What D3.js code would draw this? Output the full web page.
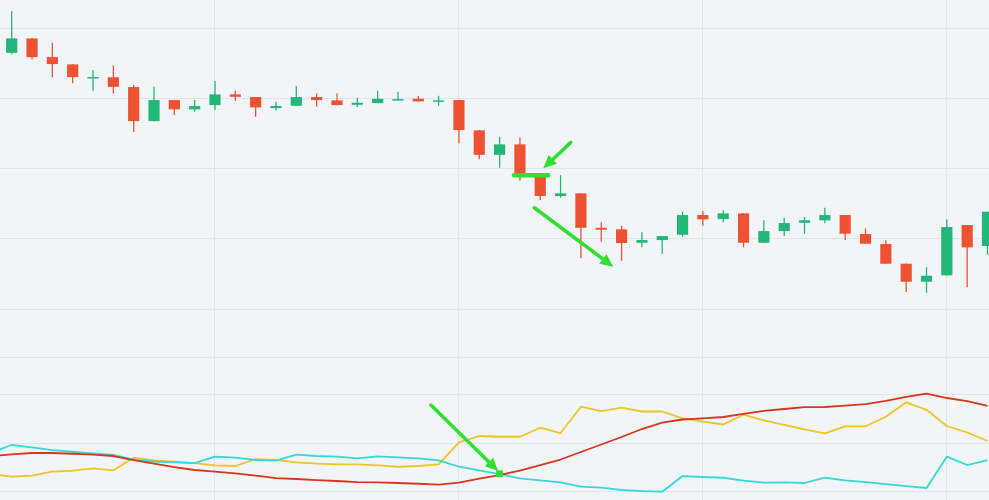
<!DOCTYPE html>
<html>
<head>
<meta charset="utf-8">
<script src="https://cdn.jsdelivr.net/npm/d3@7"></script>
<style>
  html, body { margin: 0; padding: 0; background: #f2f5f8; overflow: hidden; }
  #chart svg { display: block; }
</style>
</head>
<body>
<div id="chart"></div>
<script>
/*******************************/
/*           The data          */
/*******************************/
// Candles (price in chart units), one value per period 0..48
const opens  = [136.48, 138.53, 135.87, 134.83, 132.92, 133.00, 131.60, 126.76, 129.75, 128.43,
                129.04, 130.56, 130.18, 128.61, 128.94, 130.18, 129.71, 129.08, 129.32, 129.75,
                129.94, 129.61, 129.75, 125.44, 121.96, 123.44, 118.83, 116.09, 116.47, 111.57,
                111.35, 109.44, 109.82, 110.58, 113.38, 112.81, 113.62, 109.44, 111.10, 112.28,
                112.63, 113.38, 110.68, 109.25, 106.45, 103.89, 104.80, 111.96, 108.97];
const highs  = [142.42, 138.60, 137.91, 134.85, 134.02, 134.69, 131.89, 131.70, 129.78, 129.75,
                132.46, 131.07, 130.20, 129.51, 131.74, 130.70, 130.70, 130.08, 131.07, 130.93,
                130.32, 130.36, 129.78, 125.46, 124.53, 124.44, 118.86, 119.07, 116.50, 112.34,
                111.86, 110.92, 110.41, 113.85, 113.95, 114.05, 113.65, 112.63, 113.00, 113.10,
                114.42, 113.40, 111.49, 109.78, 106.47, 105.94, 112.77, 111.98, 113.87];
const lows   = [136.26, 135.54, 132.98, 132.13, 131.07, 130.70, 125.20, 126.69, 127.62, 128.09,
                128.33, 129.65, 127.37, 128.23, 128.90, 128.80, 129.00, 128.75, 129.30, 129.74,
                129.56, 128.94, 123.59, 121.31, 120.11, 118.26, 115.52, 115.84, 107.22, 109.58,
                106.88, 108.78, 107.87, 110.29, 111.86, 112.34, 108.78, 109.42, 110.39, 110.68,
                112.20, 109.82, 109.28, 106.43, 102.42, 102.32, 104.78, 103.09, 107.73];
const closes = [138.53, 135.87, 134.88, 133.02, 133.04, 131.64, 126.76, 129.75, 128.43, 128.90,
                130.56, 130.22, 128.71, 128.90, 130.18, 129.75, 129.04, 129.37, 129.94, 129.89,
                129.57, 129.71, 125.48, 121.96, 123.44, 119.22, 116.09, 116.47, 111.57, 111.29,
                109.40, 109.82, 110.39, 113.38, 112.77, 113.62, 109.44, 111.10, 112.24, 112.63,
                113.38, 110.72, 109.30, 106.45, 103.89, 104.74, 111.67, 108.78, 113.85];

// Indicator lines, one value per period -1..48 (the first one sits left of the view)
const indicatorStart = -1;
const adx     = [17.33, 17.68, 17.95, 17.95, 17.80, 17.60, 17.33, 16.51, 15.75, 15.07,
                 14.46, 14.11, 13.78, 13.29, 12.81, 12.61, 12.40, 12.20, 11.99, 11.93,
                 11.79, 11.64, 11.44, 11.85, 12.67, 13.43, 14.35, 15.48, 16.61, 18.15,
                 19.69, 21.23, 22.87, 24.17, 24.83, 25.07, 25.34, 26.00, 26.61, 26.98,
                 27.35, 27.39, 27.66, 27.97, 28.67, 29.49, 30.12, 29.24, 28.62, 27.60];
const plusDI  = [18.05, 19.59, 19.12, 18.56, 18.21, 17.89, 17.54, 16.57, 16.16, 16.04,
                 15.89, 17.19, 16.98, 16.51, 16.37, 17.60, 17.33, 17.19, 16.86, 17.27,
                 17.06, 16.86, 16.45, 15.13, 14.39, 13.63, 12.75, 12.34, 11.93, 11.03,
                 10.82, 10.35, 10.14, 10.00, 13.22, 13.02, 12.87, 12.26, 11.85, 11.93,
                 11.79, 12.87, 12.34, 11.99, 11.58, 11.17, 10.76, 17.19, 15.48, 16.51];
const minusDI = [13.63, 13.08, 13.29, 14.11, 14.31, 14.80, 14.39, 16.98, 16.45, 16.16,
                 15.89, 15.42, 15.28, 16.71, 16.51, 16.04, 15.75, 15.63, 15.63, 15.42,
                 15.13, 15.28, 15.63, 20.14, 21.44, 21.29, 21.29, 23.14, 22.05, 27.45,
                 26.57, 27.25, 26.47, 26.47, 25.07, 24.37, 23.80, 25.81, 24.66, 23.70,
                 22.81, 21.99, 23.43, 23.43, 25.40, 28.36, 26.82, 23.49, 22.16, 20.41];

// Grid levels
const priceTicks = [100, 110, 120, 130, 140];
const indicatorTicks = [10, 20, 30];
const timeTicks = [10, 22, 34, 46];

// Annotations, in data space: [period, value]
const arrowsPrice = [
  {from: [27.50, 123.73], to: [26.15, 120.03]},
  {from: [25.71, 114.42], to: [29.59, 106.02]}
];
const levelLine = {from: 24.71, to: 26.39, value: 119.03};
const arrowsIndicator = [
  {from: [20.62, 27.80], to: [23.93, 14.25]}
];
const crossPoint = [24, 13.70];


/*******************************/
/*    Declare the constants    */
/*******************************/
const width = 989;
const height = 500;
const paneSplit = 357;

const colors = {
  background: "#f2f5f8",
  grid: "#e1e6ec",
  up: "#22b679",
  down: "#ef5133",
  adx: "#d9361c",
  plusDI: "#36d8d8",
  minusDI: "#eec425",
  note: "#2fe02f"
};

const candles = opens.map((o, i) => ({
  i: i, open: o, high: highs[i], low: lows[i], close: closes[i]
}));


/****************************/
/*    Declare the scales    */
/****************************/
const xScale = d3.scaleLinear()
  .domain([0, candles.length - 1])
  .range([11.7, 987.5]);
const step = xScale(1) - xScale(0);
const bodyWidth = step * 0.55;

const yPrice = d3.scaleLinear()
  .domain([93.17, 144])
  .range([paneSplit, 0]);

const yInd = d3.scaleLinear()
  .domain([8.3, 37.66])
  .range([height, paneSplit]);


/*******************************/
/*    Append the containers    */
/*******************************/
const svg = d3.select("#chart")
  .append("svg")
    .attr("width", width)
    .attr("height", height)
    .attr("viewBox", `0 0 ${width} ${height}`);

svg.append("rect")
  .attr("width", width)
  .attr("height", height)
  .attr("fill", colors.background);

const defs = svg.append("defs");
defs.append("clipPath").attr("id", "clip-price")
  .append("rect").attr("width", width).attr("height", paneSplit);
defs.append("clipPath").attr("id", "clip-ind")
  .append("rect").attr("y", paneSplit).attr("width", width).attr("height", height - paneSplit);


/**************************/
/*       Grid lines       */
/**************************/
const grid = svg.append("g")
  .attr("stroke", colors.grid)
  .attr("stroke-width", 1)
  .attr("shape-rendering", "crispEdges");

grid.selectAll(".h-price")
  .data(priceTicks)
  .join("line")
    .attr("x1", 0).attr("x2", width)
    .attr("y1", d => yPrice(d)).attr("y2", d => yPrice(d));

grid.selectAll(".h-ind")
  .data(indicatorTicks)
  .join("line")
    .attr("x1", 0).attr("x2", width)
    .attr("y1", d => yInd(d)).attr("y2", d => yInd(d));

grid.selectAll(".v")
  .data(timeTicks)
  .join("line")
    .attr("x1", d => xScale(d)).attr("x2", d => xScale(d))
    .attr("y1", 0).attr("y2", height);

// pane separator
grid.append("line")
  .attr("x1", 0).attr("x2", width)
  .attr("y1", paneSplit).attr("y2", paneSplit);


/**************************/
/*     Append candles     */
/**************************/
const candleG = svg.append("g")
  .attr("clip-path", "url(#clip-price)")
  .selectAll("g")
  .data(candles)
  .join("g")
    .attr("fill", d => d.close >= d.open ? colors.up : colors.down)
    .attr("stroke", d => d.close >= d.open ? colors.up : colors.down);

candleG.append("line")
  .attr("x1", d => xScale(d.i)).attr("x2", d => xScale(d.i))
  .attr("y1", d => yPrice(d.high)).attr("y2", d => yPrice(d.low))
  .attr("stroke-width", 1.3);

candleG.append("rect")
  .attr("x", d => xScale(d.i) - bodyWidth / 2)
  .attr("y", d => yPrice(Math.max(d.open, d.close)))
  .attr("width", bodyWidth)
  .attr("height", d => Math.max(1.5, Math.abs(yPrice(d.open) - yPrice(d.close))))
  .attr("stroke", "none");


/**************************/
/*    Indicator lines     */
/**************************/
const indLine = d3.line()
  .x((d, i) => xScale(i + indicatorStart))
  .y(d => yInd(d));

const indG = svg.append("g")
  .attr("clip-path", "url(#clip-ind)")
  .attr("fill", "none")
  .attr("stroke-width", 1.8)
  .attr("stroke-linejoin", "round");

[[minusDI, colors.minusDI], [plusDI, colors.plusDI], [adx, colors.adx]].forEach(([series, color]) => {
  indG.append("path")
    .attr("d", indLine(series))
    .attr("stroke", color);
});


/**************************/
/*      Annotations       */
/**************************/
const noteG = svg.append("g")
  .attr("fill", colors.note)
  .attr("stroke", colors.note);

const drawArrow = (x1, y1, x2, y2) => {
  const angle = Math.atan2(y2 - y1, x2 - x1);
  const headLen = 13;
  const headHalf = 6;
  const bx = x2 - headLen * Math.cos(angle);
  const by = y2 - headLen * Math.sin(angle);
  noteG.append("line")
    .attr("x1", x1).attr("y1", y1)
    .attr("x2", bx).attr("y2", by)
    .attr("stroke-width", 3.5)
    .attr("stroke-linecap", "round");
  noteG.append("path")
    .attr("stroke", "none")
    .attr("d", d3.line()([
      [x2, y2],
      [bx + headHalf * Math.sin(angle), by - headHalf * Math.cos(angle)],
      [bx - headHalf * Math.sin(angle), by + headHalf * Math.cos(angle)]
    ]) + "Z");
};

arrowsPrice.forEach(a => drawArrow(
  xScale(a.from[0]), yPrice(a.from[1]), xScale(a.to[0]), yPrice(a.to[1])));

arrowsIndicator.forEach(a => drawArrow(
  xScale(a.from[0]), yInd(a.from[1]), xScale(a.to[0]), yInd(a.to[1])));

noteG.append("line")
  .attr("x1", xScale(levelLine.from)).attr("x2", xScale(levelLine.to))
  .attr("y1", yPrice(levelLine.value)).attr("y2", yPrice(levelLine.value))
  .attr("stroke-width", 4.5)
  .attr("stroke-linecap", "round");

noteG.append("rect")
  .attr("x", xScale(crossPoint[0]) - 3.5)
  .attr("y", yInd(crossPoint[1]) - 3.5)
  .attr("width", 7)
  .attr("height", 7)
  .attr("rx", 1.5)
  .attr("stroke", "none");
</script>
</body>
</html>
